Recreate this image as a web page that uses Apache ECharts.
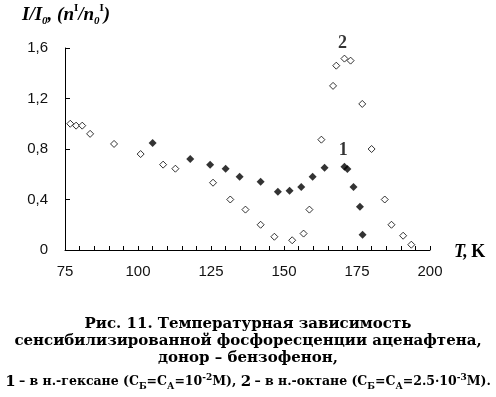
<!DOCTYPE html>
<html>
<head>
<meta charset="utf-8">
<script src="https://cdn.jsdelivr.net/npm/echarts@6/dist/echarts.min.js"></script>
<style>
  html, body { margin: 0; padding: 0; background: #fff; }
  #chart { width: 496px; height: 397px; }
</style>
</head>
<body>
<div id="chart"></div>
<script>
// кривая 1 - н.-гексан (заполненные ромбы)
const temp1 = [105.0, 117.9, 124.7, 130.0, 134.8, 142.0, 147.9, 151.9, 155.9, 159.8, 163.9, 170.7, 171.7, 173.8, 176.0, 176.9]
const ratio1 = [0.848, 0.72, 0.676, 0.644, 0.58, 0.541, 0.462, 0.47, 0.50, 0.58, 0.652, 0.66, 0.642, 0.50, 0.343, 0.12]
// кривая 2 - н.-октан (пустые ромбы)
const temp2 = [76.8, 78.8, 80.9, 83.6, 91.8, 100.9, 108.6, 112.8, 125.7, 131.6, 136.8, 142.0, 146.7, 152.8, 156.7, 158.7, 162.8, 166.8, 167.9, 170.7, 172.8, 176.8, 180.0, 184.5, 186.8, 190.8, 193.6]
const ratio2 = [1.00, 0.985, 0.985, 0.92, 0.84, 0.76, 0.676, 0.644, 0.533, 0.40, 0.32, 0.20, 0.105, 0.077, 0.13, 0.32, 0.874, 1.30, 1.46, 1.516, 1.50, 1.157, 0.80, 0.40, 0.20, 0.113, 0.042]
// подписи кривых
const curveNames = ['1', '2']
const curveLabelT = [170.3, 170.0]
const curveLabelI = [0.79, 1.64]

const chart = echarts.init(document.getElementById('chart'))

const serif = '"Liberation Serif", "Times New Roman", serif'
const wideSerif = '"DejaVu Serif", "Liberation Serif", serif'
const sans = '"Liberation Sans", Arial, sans-serif'

const option = {
  backgroundColor: '#fff',
  animation: false,
  grid: { left: 65, top: 48, width: 365, height: 202 },
  xAxis: {
    type: 'value',
    min: 75,
    max: 200,
    interval: 5,
    splitLine: { show: false },
    axisLine: { lineStyle: { color: '#000', width: 1 } },
    axisTick: { inside: true, length: 4, lineStyle: { color: '#000' } },
    axisLabel: {
      margin: 14,
      color: '#111',
      fontFamily: sans,
      fontSize: 15,
      formatter: v => (v % 25 === 0 ? String(v) : '')
    }
  },
  yAxis: {
    type: 'value',
    min: 0,
    max: 1.6,
    interval: 0.4,
    splitLine: { show: false },
    axisLine: { show: true, lineStyle: { color: '#000', width: 1 } },
    axisTick: { show: true, inside: true, length: 5, lineStyle: { color: '#000' } },
    axisLabel: {
      margin: 17,
      color: '#111',
      fontFamily: sans,
      fontSize: 15,
      formatter: v => (v === 0 ? '0' : v.toFixed(1).replace('.', ','))
    }
  },
  series: [
    {
      name: '2',
      type: 'scatter',
      symbol: 'diamond',
      symbolSize: 7,
      itemStyle: { color: '#fff', borderColor: '#000', borderWidth: 1 },
      data: temp2.map((t, i) => [t, ratio2[i]])
    },
    {
      name: '1',
      type: 'scatter',
      symbol: 'diamond',
      symbolSize: 8,
      itemStyle: { color: '#000' },
      data: temp1.map((t, i) => [t, ratio1[i]])
    },
    {
      type: 'scatter',
      symbolSize: 0,
      clip: false,
      silent: true,
      label: {
        show: true,
        position: 'inside',
        formatter: p => p.value[2],
        color: '#000',
        fontFamily: serif,
        fontWeight: 'bold',
        fontSize: 18
      },
      data: curveNames.map((n, i) => [curveLabelT[i], curveLabelI[i], n])
    }
  ],
  graphic: [
    {
      type: 'text',
      left: 22,
      top: 3,
      style: {
        text: '{b|I/I}{sub|0}{b|, (n}{sup|I}{b|/n}{sub|0}{sup|I}{b|)}',
        rich: {
          b: { fontFamily: serif, fontWeight: 'bold', fontStyle: 'italic', fontSize: 19, lineHeight: 24, fill: '#000' },
          sub: { fontFamily: serif, fontWeight: 'bold', fontStyle: 'italic', fontSize: 11, lineHeight: 24, verticalAlign: 'bottom', fill: '#000' },
          sup: { fontFamily: serif, fontWeight: 'bold', fontSize: 11, lineHeight: 24, verticalAlign: 'top', fill: '#000' }
        }
      }
    },
    {
      type: 'text',
      left: 454,
      top: 243,
      style: {
        text: '{i|T,} {b|K}',
        rich: {
          i: { fontFamily: serif, fontWeight: 'bold', fontStyle: 'italic', fontSize: 18, fill: '#000' },
          b: { fontFamily: serif, fontWeight: 'bold', fontSize: 18, fill: '#000' }
        }
      }
    },
    {
      type: 'text',
      x: 248,
      y: 316,
      style: {
        text: 'Рис. 11. Температурная зависимость\nсенсибилизированной фосфоресценции аценафтена,\nдонор – бензофенон,',
        align: 'center',
        fontFamily: wideSerif,
        fontWeight: 'bold',
        fontSize: 15,
        lineHeight: 17,
        fill: '#000'
      }
    },
    {
      type: 'text',
      x: 248,
      y: 373,
      style: {
        text: '{n|1} {s|– в н.-гексане (С}{sb|Б}{s|=С}{sb|А}{s|=10}{sp|-2}{s|М), }{n|2} {s|– в н.-октане (С}{sb|Б}{s|=С}{sb|А}{s|=2.5·10}{sp|-3}{s|М).}',
        align: 'center',
        rich: {
          n: { fontFamily: wideSerif, fontWeight: 'bold', fontSize: 15, lineHeight: 18, fill: '#000' },
          s: { fontFamily: wideSerif, fontWeight: 'bold', fontSize: 12.5, lineHeight: 18, fill: '#000' },
          sb: { fontFamily: wideSerif, fontWeight: 'bold', fontSize: 9, lineHeight: 18, verticalAlign: 'bottom', fill: '#000' },
          sp: { fontFamily: wideSerif, fontWeight: 'bold', fontSize: 9, lineHeight: 18, verticalAlign: 'top', fill: '#000' }
        }
      }
    }
  ]
}

chart.setOption(option)
</script>
</body>
</html>
